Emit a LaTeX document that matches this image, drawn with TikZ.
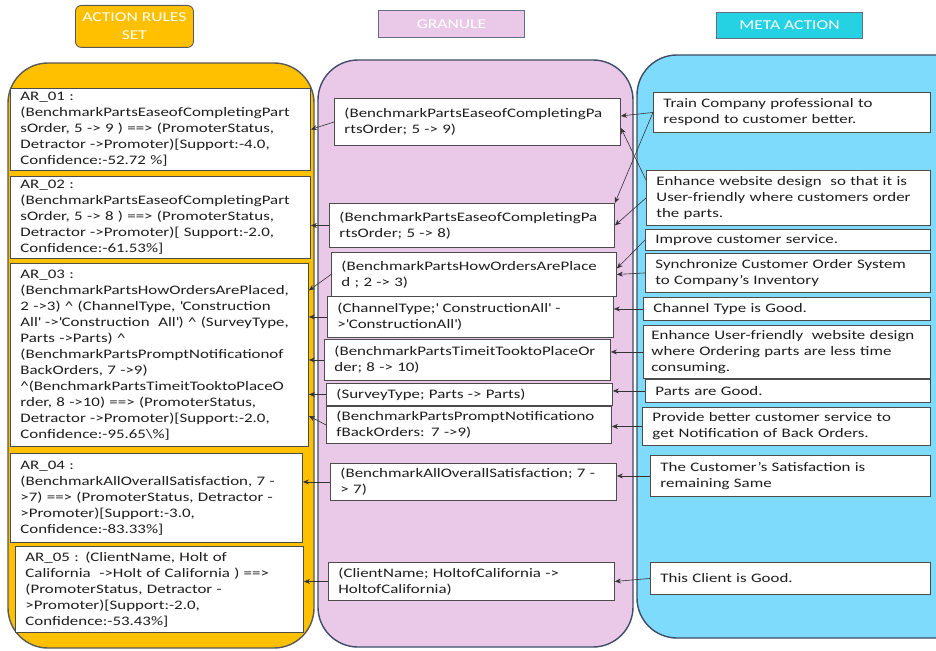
\documentclass[tikz,border=0pt]{standalone}
\usepackage{fontspec}
\setmainfont{Carlito}[FakeStretch=1.3]
\usetikzlibrary{positioning,calc,arrows,arrows.meta}

\definecolor{arsorange}{RGB}{255,192,0}
\definecolor{granpink}{RGB}{234,200,232}
\definecolor{metablue}{RGB}{126,219,252}
\definecolor{metacyan}{RGB}{36,210,228}
\definecolor{edgeslate}{RGB}{62,76,104}
\definecolor{txtgray}{RGB}{30,30,30}

\begin{document}
\begin{tikzpicture}[x=1pt, y=-1pt]
	\tikzstyle{every node}=[align=left, inner sep=0pt, text=txtgray, font=\fontsize{13}{16}\selectfont]
	\tikzstyle{rule}=[draw=black!70, fill=white, line width=0.9pt, anchor=north west, inner xsep=10pt]
	\tikzstyle{head}=[align=center, anchor=north west, text=white, line width=0.9pt, font=\fontsize{13.5}{18}\selectfont]
	\tikzstyle{panel}=[line width=1.4pt, rounded corners=40pt]
	\tikzstyle{link}=[->, >={Stealth[length=6pt, width=5pt]}, draw=black!80, line width=0.6pt]

	\clip (0, 0) rectangle (936, 650);
	\fill [white] (0, 0) rectangle (936, 650);

	\draw [panel, fill=arsorange, draw=gray!70!black] (8, 63)   rectangle (314, 648);
	\draw [panel, fill=granpink,  draw=edgeslate]     (318, 60) rectangle (633, 647);
	\draw [panel, fill=metablue,  draw=edgeslate]     (637, 55) rectangle (990, 638);

	\node [head, draw=gray!70!black, fill=arsorange, rounded corners=6pt, minimum width=118pt, minimum height=42pt] (hars)  at (75, 5)   {ACTION RULES\\SET};
	\node [head, draw=edgeslate!80,  fill=granpink,  minimum width=146pt, minimum height=27pt] (hgran) at (378, 10) {GRANULE};
	\node [head, draw=edgeslate!80,  fill=metacyan,  minimum width=146pt, minimum height=26pt] (hmeta) at (716, 12) {META ACTION};

	\node [rule, text width=280pt, minimum height=82pt] (ar1) at (10, 88)
		{AR\_01 :\\(BenchmarkPartsEaseofCompletingPart\\sOrder, 5 -> 9 ) ==> (PromoterStatus,\\Detractor ->Promoter)[Support:-4.0,\\Confidence:-52.72 \%]};
	\node [rule, text width=280pt, minimum height=82pt] (ar2) at (10, 176)
		{AR\_02 :\\(BenchmarkPartsEaseofCompletingPart\\sOrder, 5 -> 8 ) ==> (PromoterStatus,\\Detractor ->Promoter)[ Support:-2.0,\\Confidence:-61.53\%]};
	\node [rule, text width=278pt, minimum height=183pt] (ar3) at (10, 263)
		{AR\_03 :\\(BenchmarkPartsHowOrdersArePlaced,\\2 ->3) \textasciicircum{} (ChannelType, \textquotesingle Construction\\All\textquotesingle{} ->\textquotesingle Construction\ \ All\textquotesingle) \textasciicircum{} (SurveyType,\\Parts ->Parts) \textasciicircum\\(BenchmarkPartsPromptNotificationof\\BackOrders, 7 ->9)\\\textasciicircum(BenchmarkPartsTimeitTooktoPlaceO\\rder, 8 ->10) ==> (PromoterStatus,\\Detractor ->Promoter)[Support:-2.0,\\Confidence:-95.65\textbackslash\%]};
	\node [rule, text width=272pt, minimum height=89pt] (ar4) at (10, 453)
		{AR\_04 :\\(BenchmarkAllOverallSatisfaction, 7 -\\>7) ==> (PromoterStatus, Detractor -\\>Promoter)[Support:-3.0,\\Confidence:-83.33\%]};
	\node [rule, text width=268pt, minimum height=86pt] (ar5) at (15, 546)
		{AR\_05 : (ClientName, Holt of\\California\ \ ->Holt of California ) ==>\\(PromoterStatus, Detractor -\\>Promoter)[Support:-2.0,\\Confidence:-53.43\%]};

	\node [rule, text width=266pt, minimum height=47pt] (g1) at (334, 98)
		{(BenchmarkPartsEaseofCompletingPa\\rtsOrder; 5 -> 9)};
	\node [rule, text width=265pt, minimum height=44pt] (g2) at (329, 203)
		{(BenchmarkPartsEaseofCompletingPa\\rtsOrder; 5 -> 8)};
	\node [rule, text width=265pt, minimum height=44pt] (g3) at (331, 252)
		{(BenchmarkPartsHowOrdersArePlace\\d ; 2 -> 3)};
	\node [rule, text width=266pt, minimum height=41pt] (g4) at (327, 296)
		{(ChannelType;\textquotesingle{} ConstructionAll\textquotesingle{} -\\>\textquotesingle ConstructionAll\textquotesingle)};
	\node [rule, text width=266pt, minimum height=41pt] (g5) at (324, 339)
		{(BenchmarkPartsTimeitTooktoPlaceOr\\der; 8 -> 10)};
	\node [rule, text width=266pt, minimum height=22pt] (g6) at (326, 383)
		{(SurveyType; Parts -> Parts)};
	\node [rule, text width=265pt, minimum height=37pt] (g7) at (326, 406)
		{(BenchmarkPartsPromptNotificationo\\fBackOrders: 7 ->9)};
	\node [rule, text width=266pt, minimum height=37pt] (g8) at (330, 463)
		{(BenchmarkAllOverallSatisfaction; 7 -\\> 7)};
	\node [rule, text width=266pt, minimum height=38pt] (g9) at (328, 562)
		{(ClientName; HoltofCalifornia ->\\HoltofCalifornia)};

	\node [rule, text width=257pt, minimum height=40pt] (m1)  at (653, 92)  {Train Company professional to\\respond to customer better.};
	\node [rule, text width=264pt, minimum height=55pt] (m2)  at (646, 170) {Enhance website design\ \ so that it is\\User-friendly where customers order\\the parts.};
	\node [rule, text width=265pt, minimum height=21pt] (m3)  at (645, 229) {Improve customer service.};
	\node [rule, text width=265pt, minimum height=39pt] (m4)  at (645, 253) {Synchronize Customer Order System\\to Company's Inventory};
	\node [rule, text width=271pt, inner xsep=8pt, minimum height=53pt] (m6)  at (643, 325) {Enhance User-friendly\ \ website design\\where Ordering parts are less time\\consuming.};
	\node [rule, text width=267pt, minimum height=23pt] (m5)  at (643, 297) {Channel Type is Good.};
	\node [rule, text width=265pt, minimum height=23pt] (m7)  at (645, 379) {Parts are Good.};
	\node [rule, text width=268pt, minimum height=38pt] (m8)  at (642, 407) {Provide better customer service to\\get Notification of Back Orders.};
	\node [rule, text width=260pt, minimum height=41pt] (m9)  at (650, 455) {The Customer's Satisfaction is\\remaining Same};
	\node [rule, text width=260pt, minimum height=32pt] (m10) at (650, 562) {This Client is Good.};

	\draw [link] (m1.west) to ([yshift=6pt]g1.east);
	\draw [link] (m1.west) to (g2.north east);
	\draw [link] ([yshift=-10pt]m2.north west) to ([yshift=-6pt]g1.east);
	\draw [link] (m2.west) to (g2.east);
	\draw [link] (m3.west) to ([yshift=6pt]g3.east);
	\draw [link] (m4.west) to (g3.east);
	\draw [link] (m5.west) to (m5.west -| g4.east);
	\draw [link] (m6.west) to (m6.west -| g5.east);
	\draw [link] (m7.west) to (m7.west -| g6.east);
	\draw [link] (m8.west) to (m8.west -| g7.east);
	\draw [link] (m9.west) to (m9.west -| g8.east);
	\draw [link] (m10.west) to (g9.east);

	\draw [link] (g1.west) to (ar1.east);
	\draw [link] (g2.west) to (g2.west -| ar2.east);
	\draw [link] (g3.west) to ([yshift=-16pt]g3.west -| ar3.east);
	\draw [link] (g4.west) to (g4.west -| ar3.east);
	\draw [link] (g5.west) to (g5.west -| ar3.east);
	\draw [link] (g6.west) to (g6.west -| ar3.east);
	\draw [link] (g7.west) to ([yshift=9pt]g7.west -| ar3.east);
	\draw [link] (g8.west) to (g8.west -| ar4.east);
	\draw [link] (g9.west) to (g9.west -| ar5.east);
\end{tikzpicture}
\end{document}
